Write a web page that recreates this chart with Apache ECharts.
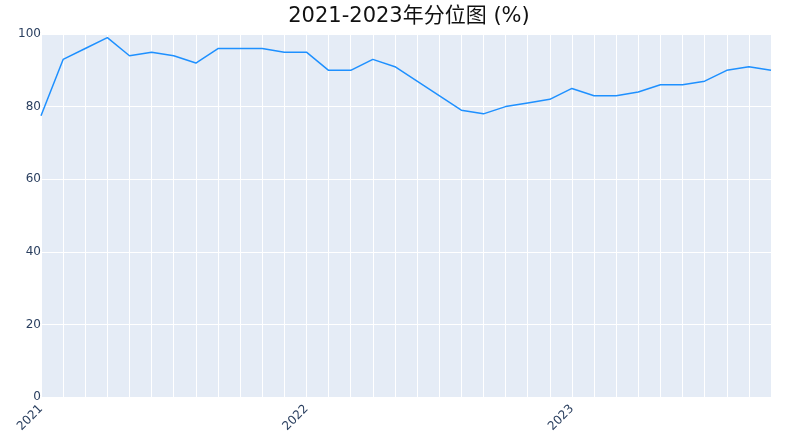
<!DOCTYPE html>
<html><head><meta charset="utf-8">
<script src="https://cdn.jsdelivr.net/npm/echarts@6/dist/echarts.min.js"></script>
<style>html,body{margin:0;padding:0;background:#fff}#c{width:809px;height:446px}</style>
</head><body><div id="c"></div>
<script>
const titleText = '2021-2023年分位图 (%)';
const months = ['2021-01','2021-02','2021-03','2021-04','2021-05','2021-06','2021-07','2021-08','2021-09','2021-10','2021-11','2021-12',
  '2022-01','2022-02','2022-03','2022-04','2022-05','2022-06','2022-07','2022-08','2022-09','2022-10','2022-11','2022-12',
  '2023-01','2023-02','2023-03','2023-04','2023-05','2023-06','2023-07','2023-08','2023-09','2023-10'];
const values = [77.5, 93, 96, 99, 94, 95, 94, 92, 96, 96, 96, 95,
  95, 90, 90, 93, 91, 87, 83, 79, 78, 80, 81, 82,
  85, 83, 83, 84, 86, 86, 87, 90, 91, 90];
const yTicks = {min: 0, max: 100, interval: 20};

const FONT = '"DejaVu Sans", Verdana, "Noto Sans CJK SC", sans-serif';
const chart = echarts.init(document.getElementById('c'), null, {renderer: 'canvas'});
chart.setOption({
  animation: false,
  textStyle: {fontFamily: FONT},
  title: {
    text: titleText, left: 404, top: 1, textAlign: 'center',
    textStyle: {fontSize: 21, fontWeight: 'normal', color: '#111', fontFamily: FONT}
  },
  grid: {left: 41, right: 38, top: 34, bottom: 49, show: true, backgroundColor: '#E5ECF6', borderWidth: 0},
  xAxis: {
    type: 'category', data: months, boundaryGap: false,
    axisLine: {show: false}, axisTick: {show: false},
    splitLine: {show: true, interval: 0, lineStyle: {color: '#ffffff', width: 1}},
    axisLabel: {
      interval: 0, rotate: 45, color: '#2a3f5f', fontSize: 12, margin: 10, fontFamily: FONT,
      formatter: v => v.endsWith('-01') ? v.slice(0, 4) : ''
    }
  },
  yAxis: {
    type: 'value', min: yTicks.min, max: yTicks.max, interval: yTicks.interval,
    axisLine: {show: false}, axisTick: {show: false},
    splitLine: {lineStyle: {color: '#ffffff', width: 1}},
    axisLabel: {color: '#2a3f5f', fontSize: 12, margin: 0, fontFamily: FONT}
  },
  series: [{
    type: 'line', data: values, showSymbol: false, symbol: 'none',
    lineStyle: {color: '#1E90FF', width: 1.5}
  }]
});
</script></body></html>
